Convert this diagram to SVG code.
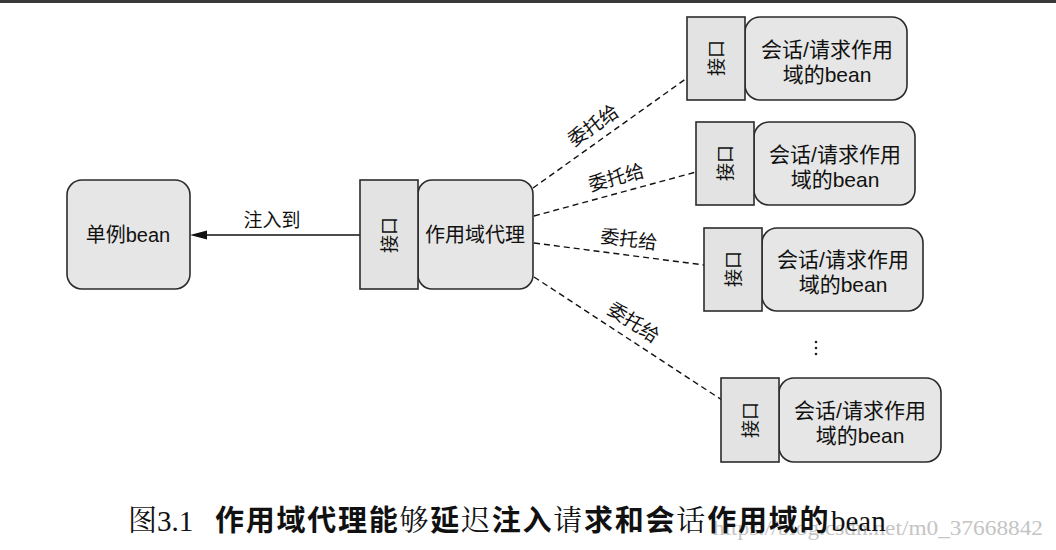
<svg xmlns="http://www.w3.org/2000/svg" width="1056" height="550" viewBox="0 0 1056 550">
<defs>
<style>
.t{font-family:"Liberation Sans","Noto Sans CJK SC",sans-serif;fill:#111;text-anchor:middle}
.box{fill:#e6e6e6;stroke:#2b2b2b;stroke-width:1.6}
.itf{fill:#e3e3e3;stroke:#2b2b2b;stroke-width:1.6}
.dash{stroke:#111;stroke-width:1.4;stroke-dasharray:6 4;fill:none}
.lbl{font-size:19px}
.nm{font-size:21px}
.if{font-size:18px}
.sans{font-family:"Noto Sans CJK SC","Liberation Sans",sans-serif;font-weight:bold}
.serif{font-family:"Liberation Serif","Noto Serif CJK SC","Noto Sans CJK SC",serif;font-weight:normal}
</style>
</defs>
<rect x="0" y="0" width="1056" height="550" fill="#fff"/>
<rect x="0" y="0" width="1056" height="3" fill="#383838"/>

<g id="connectors">
<line x1="360" y1="235" x2="205" y2="235" stroke="#111" stroke-width="1.5"/>
<polygon points="190,235 207,230.5 207,239.5" fill="#111"/>
<text class="t lbl" x="272" y="227">注入到</text>
<line class="dash" x1="533" y1="188" x2="687" y2="78"/>
<line class="dash" x1="534" y1="216" x2="696" y2="172"/>
<line class="dash" x1="534" y1="243" x2="704" y2="265"/>
<line class="dash" x1="534" y1="277" x2="722" y2="400"/>
<text class="t lbl" transform="translate(597,131) rotate(-35)">委托给</text>
<text class="t lbl" transform="translate(618,184) rotate(-15)">委托给</text>
<text class="t lbl" transform="translate(628,246) rotate(7)">委托给</text>
<text class="t lbl" transform="translate(630,328) rotate(33)">委托给</text>
</g>

<g id="singleton">
<rect class="box" x="67" y="180" width="123" height="109" rx="15"/>
<text class="t" x="128" y="242" font-size="20">单例bean</text>
</g>

<g id="proxy">
<rect class="box" x="418" y="180" width="115" height="109" rx="14"/>
<rect class="itf" x="360" y="180" width="58" height="109"/>
<text class="t if" transform="translate(396,235) rotate(-90)">接口</text>
<text class="t" x="475" y="242" font-size="20">作用域代理</text>
</g>

<g id="bean1">
<rect class="box" x="745" y="17" width="162" height="83" rx="15"/>
<rect class="itf" x="687" y="17" width="58" height="83"/>
<text class="t if" transform="translate(723,58) rotate(-90)">接口</text>
<text class="t nm" x="827" y="57">会话/请求作用</text>
<text class="t nm" x="827" y="82">域的bean</text>
</g>

<g id="bean2">
<rect class="box" x="754" y="122" width="161" height="83" rx="15"/>
<rect class="itf" x="696" y="122" width="58" height="83"/>
<text class="t if" transform="translate(732,163) rotate(-90)">接口</text>
<text class="t nm" x="835" y="162">会话/请求作用</text>
<text class="t nm" x="835" y="187">域的bean</text>
</g>

<g id="bean3">
<rect class="box" x="762" y="228" width="161" height="83" rx="15"/>
<rect class="itf" x="704" y="228" width="58" height="83"/>
<text class="t if" transform="translate(740,269) rotate(-90)">接口</text>
<text class="t nm" x="843" y="267">会话/请求作用</text>
<text class="t nm" x="843" y="292">域的bean</text>
</g>

<g id="ellipsis">
<circle cx="816" cy="342" r="1.3" fill="#222"/>
<circle cx="816" cy="348" r="1.3" fill="#222"/>
<circle cx="816" cy="354" r="1.3" fill="#222"/>
</g>

<g id="bean4">
<rect class="box" x="779" y="378" width="162" height="84" rx="15"/>
<rect class="itf" x="721" y="378" width="58" height="84"/>
<text class="t if" transform="translate(757,420) rotate(-90)">接口</text>
<text class="t nm" x="860" y="418">会话/请求作用</text>
<text class="t nm" x="860" y="443">域的bean</text>
</g>

<g id="caption">
<text x="713" y="535" font-size="21" fill="#c4c4c4" font-family="'Liberation Serif',serif" textLength="330" lengthAdjust="spacingAndGlyphs">https://blog.csdn.net/m0_37668842</text>
<text x="128" y="531" font-size="29" fill="#111"><tspan class="serif">图3.1</tspan><tspan class="sans" x="215" letter-spacing="1.75">作用域代理能</tspan><tspan class="serif" letter-spacing="1.75">够</tspan><tspan class="sans" letter-spacing="1.75">延</tspan><tspan class="serif" letter-spacing="1.75">迟</tspan><tspan class="sans" letter-spacing="1.75">注入</tspan><tspan class="serif" letter-spacing="1.75">请</tspan><tspan class="sans" letter-spacing="1.75">求和会</tspan><tspan class="serif" letter-spacing="1.75">话</tspan><tspan class="sans" letter-spacing="1.75">作用域的</tspan><tspan class="serif" x="831">bean</tspan></text>
</g>
</svg>
